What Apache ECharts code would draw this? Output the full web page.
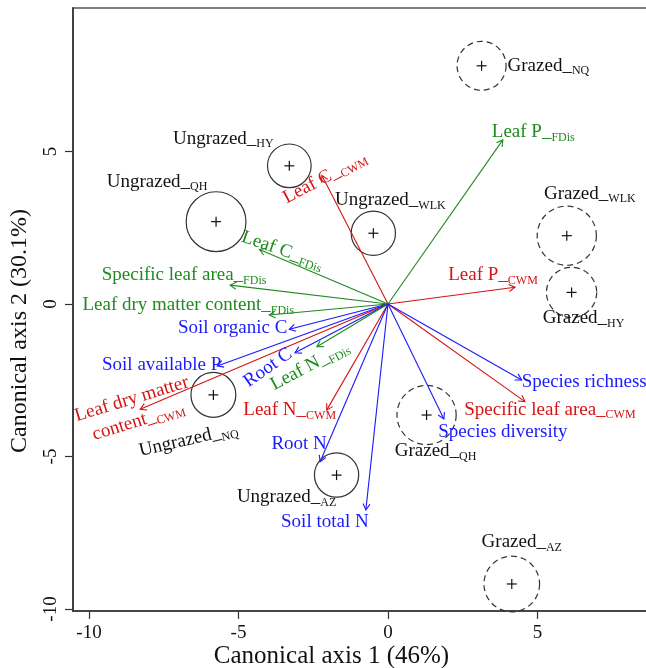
<!DOCTYPE html>
<html>
<head>
<meta charset="utf-8">
<script src="https://cdn.jsdelivr.net/npm/echarts@6/dist/echarts.min.js"></script>
<style>
  html, body { margin: 0; padding: 0; background: #ffffff; }
  #chart { width: 646px; height: 668px; }
</style>
</head>
<body>
<div id="chart"></div>
<script>
// Ordination biplot: trait / soil / diversity vectors and site centroids.

// Vectors (arrow tips on canonical axes 1 and 2)
const vectorLabels = [
  'Leaf P', 'Leaf C', 'Leaf P', 'Leaf C', 'Specific leaf area',
  'Leaf dry matter content', 'Soil organic C', 'Soil available P',
  'Leaf dry matter content', 'Root C', 'Leaf N', 'Leaf N', 'Root N',
  'Soil total N', 'Species diversity', 'Specific leaf area', 'Species richness'
];
const vectorSubscripts = [
  'FDis', 'CWM', 'CWM', 'FDis', 'FDis',
  'FDis', '', '',
  'CWM', '', 'FDis', 'CWM', '',
  '', '', 'CWM', ''
];
const vectorGroups = [
  'FDis', 'CWM', 'CWM', 'FDis', 'FDis',
  'FDis', 'env', 'env',
  'CWM', 'env', 'FDis', 'CWM', 'env',
  'env', 'env', 'CWM', 'env'
];
const vectorAxis1 = [
  3.84, -2.21, 4.25, -4.30, -5.28,
  -3.97, -3.30, -5.71,
  -8.29, -3.11, -2.38, -2.05, -2.27,
  -0.74, 1.87, 4.58, 4.47
];
const vectorAxis2 = [
  5.38, 4.21, 0.55, 1.79, 0.62,
  -0.36, -0.83, -2.03,
  -3.45, -1.60, -1.40, -3.48, -5.17,
  -6.75, -3.77, -3.20, -2.49
];

// Site centroids with their dispersion radius
const siteTreatments = [
  'Grazed', 'Grazed', 'Grazed', 'Grazed', 'Grazed',
  'Ungrazed', 'Ungrazed', 'Ungrazed', 'Ungrazed', 'Ungrazed'
];
const siteRegions = ['NQ', 'WLK', 'HY', 'QH', 'AZ', 'HY', 'QH', 'WLK', 'NQ', 'AZ'];
const siteAxis1 = [3.13, 5.98, 6.14, 1.29, 4.14, -3.30, -5.75, -0.49, -5.84, -1.72];
const siteAxis2 = [7.81, 2.24, 0.38, -3.64, -9.18, 4.53, 2.70, 2.32, -2.98, -5.61];
const siteRadius = [0.82, 0.99, 0.84, 0.99, 0.93, 0.73, 1.00, 0.74, 0.75, 0.74];

// Axis tick labels
const axisTicks = [-10, -5, 0, 5];
const axis1Title = 'Canonical axis 1 (46%)';
const axis2Title = 'Canonical axis 2 (30.1%)';

// ---- styling ----
const SERIF = '"Liberation Serif", "Times New Roman", Times, serif';
const groupColors = { FDis: '#1f8a1f', CWM: '#d41414', env: '#1a1aff' };

// Label placement in pixels relative to the arrow tip / site centre
const vectorLabelPlacement = [
  { dx: -11, dy: -8, align: 'left' },
  { dx: 3, dy: 2, align: 'center', rotate: 28 },
  { dx: -22, dy: -12, align: 'center' },
  { dx: 23, dy: 1, align: 'center', rotate: -19 },
  { dx: -46, dy: -10, align: 'center' },
  { dx: -81, dy: -10, align: 'center' },
  { dx: -2, dy: -1, align: 'right' },
  { dx: 4, dy: -1, align: 'right' },
  { dx: -5, dy: 1, align: 'center', rotate: 17, wrap: true },
  { dx: -27, dy: 15, align: 'center', rotate: 35 },
  { dx: -7, dy: 19, align: 'center', rotate: 28 },
  { dx: -37, dy: 0, align: 'center' },
  { dx: -21, dy: -18, align: 'center' },
  { dx: -41, dy: 12, align: 'center' },
  { dx: 59, dy: 13, align: 'center' },
  { dx: 25, dy: 8, align: 'center' },
  { dx: 0, dy: 2, align: 'left' }
];
const siteLabelPlacement = [
  { dx: 26, dy: 0, align: 'left' },
  { dx: 23, dy: -42, align: 'center' },
  { dx: 12, dy: 26, align: 'center' },
  { dx: 9, dy: 36, align: 'center' },
  { dx: 10, dy: -42, align: 'center' },
  { dx: -66, dy: -27, align: 'center' },
  { dx: -59, dy: -40, align: 'center' },
  { dx: 17, dy: -33, align: 'center' },
  { dx: -25, dy: 45, align: 'center', rotate: 13 },
  { dx: -50, dy: 22, align: 'center' }
];

function richText(main, sub, wrap) {
  let body = main;
  if (wrap) {
    const k = body.lastIndexOf(' ');
    body = body.slice(0, k) + '\n' + body.slice(k + 1);
  }
  const lines = body.split('\n').map(function (s) { return '{m|' + s + '}'; });
  let txt = lines.join('\n');
  if (sub) txt += '{m|_}{s|' + sub + '}';
  return txt;
}

function textElement(pos, place, text, color) {
  return {
    type: 'text',
    x: pos[0] + place.dx,
    y: pos[1] + place.dy,
    rotation: (place.rotate || 0) * Math.PI / 180,
    style: {
      text: text,
      x: 0, y: 0,
      align: place.align,
      verticalAlign: 'middle',
      fill: color,
      fontFamily: SERIF,
      fontSize: 19,
      rich: {
        m: { fontFamily: SERIF, fontSize: 19, lineHeight: 23, fill: color },
        s: { fontFamily: SERIF, fontSize: 12, lineHeight: 12, fill: color, verticalAlign: 'bottom' }
      }
    }
  };
}

const vectorData = vectorAxis1.map(function (x, i) { return [x, vectorAxis2[i]]; });
const siteData = siteAxis1.map(function (x, i) { return [x, siteAxis2[i], siteRadius[i]]; });

function renderSite(params, api) {
  const i = params.dataIndex;
  const c = api.coord([api.value(0), api.value(1)]);
  const r = api.size([api.value(2), 0])[0];
  const grazed = siteTreatments[i] === 'Grazed';
  const h = 5;
  return {
    type: 'group',
    children: [
      {
        type: 'circle',
        shape: { cx: c[0], cy: c[1], r: r },
        style: { fill: null, stroke: '#333333', lineWidth: 1.2, lineDash: grazed ? [6, 4] : null }
      },
      { type: 'line', shape: { x1: c[0] - h, y1: c[1], x2: c[0] + h, y2: c[1] }, style: { stroke: '#111', lineWidth: 1.2 } },
      { type: 'line', shape: { x1: c[0], y1: c[1] - h, x2: c[0], y2: c[1] + h }, style: { stroke: '#111', lineWidth: 1.2 } }
    ]
  };
}

function renderVector(params, api) {
  const i = params.dataIndex;
  const o = api.coord([0, 0]);
  const e = api.coord([api.value(0), api.value(1)]);
  const ang = Math.atan2(e[1] - o[1], e[0] - o[0]);
  const L = 7, A = Math.PI / 6;
  const h1 = [e[0] - L * Math.cos(ang - A), e[1] - L * Math.sin(ang - A)];
  const h2 = [e[0] - L * Math.cos(ang + A), e[1] - L * Math.sin(ang + A)];
  const color = groupColors[vectorGroups[i]];
  return {
    type: 'group',
    children: [
      { type: 'line', shape: { x1: o[0], y1: o[1], x2: e[0], y2: e[1] }, style: { stroke: color, lineWidth: 1.1 } },
      { type: 'polyline', shape: { points: [h1, e, h2] }, style: { stroke: color, fill: null, lineWidth: 1.1 } }
    ]
  };
}

function renderVectorLabel(params, api) {
  const i = params.dataIndex;
  const p = api.coord([api.value(0), api.value(1)]);
  const place = vectorLabelPlacement[i];
  const txt = richText(vectorLabels[i], vectorSubscripts[i], place.wrap);
  return textElement(p, place, txt, groupColors[vectorGroups[i]]);
}

function renderSiteLabel(params, api) {
  const i = params.dataIndex;
  const p = api.coord([api.value(0), api.value(1)]);
  const txt = richText(siteTreatments[i], siteRegions[i], false);
  return textElement(p, siteLabelPlacement[i], txt, '#111111');
}

const chart = echarts.init(document.getElementById('chart'), null, { renderer: 'canvas' });

chart.setOption({
  animation: false,
  backgroundColor: '#ffffff',
  grid: {
    left: 73, top: 8, right: -6, bottom: 57,
    outerBoundsMode: 'none',
    containLabel: false,
    show: true, borderColor: '#808080', borderWidth: 2, backgroundColor: 'transparent'
  },
  xAxis: {
    type: 'value',
    min: -10.535, max: 8.83,
    splitLine: { show: false },
    axisLine: { onZero: false, lineStyle: { color: '#333333', width: 1.6 } },
    axisTick: { show: true, length: 8, customValues: axisTicks, lineStyle: { color: '#333333', width: 1.2 } },
    axisLabel: { customValues: axisTicks, fontFamily: SERIF, fontSize: 19, color: '#111111', margin: 13 },
    name: axis1Title,
    nameLocation: 'middle',
    nameGap: 33,
    nameMoveOverlap: false,
    nameTextStyle: { fontFamily: SERIF, fontSize: 25, color: '#111111', padding: [0, 62, 0, 0] }
  },
  yAxis: {
    type: 'value',
    min: -10.066, max: 9.705,
    splitLine: { show: false },
    axisLine: { onZero: false, lineStyle: { color: '#333333', width: 1.6 } },
    axisTick: { show: true, length: 8, customValues: axisTicks, lineStyle: { color: '#333333', width: 1.2 } },
    axisLabel: { customValues: axisTicks, rotate: 90, fontFamily: SERIF, fontSize: 19, color: '#111111', margin: 12 },
    name: axis2Title,
    nameLocation: 'middle',
    nameGap: 41,
    nameTextStyle: { fontFamily: SERIF, fontSize: 24, color: '#111111', padding: [0, 43, 0, 0] }
  },
  series: [
    {
      type: 'custom', name: 'sites', coordinateSystem: 'cartesian2d',
      data: siteData, encode: { x: 0, y: 1 }, renderItem: renderSite, clip: false, z: 2, silent: true
    },
    {
      type: 'custom', name: 'vectors', coordinateSystem: 'cartesian2d',
      data: vectorData, encode: { x: 0, y: 1 }, renderItem: renderVector, clip: false, z: 3, silent: true
    },
    {
      type: 'custom', name: 'vectorLabels', coordinateSystem: 'cartesian2d',
      data: vectorData, encode: { x: 0, y: 1 }, renderItem: renderVectorLabel, clip: false, z: 4, silent: true
    },
    {
      type: 'custom', name: 'siteLabels', coordinateSystem: 'cartesian2d',
      data: siteData, encode: { x: 0, y: 1 }, renderItem: renderSiteLabel, clip: false, z: 4, silent: true
    }
  ]
});
</script>
</body>
</html>
